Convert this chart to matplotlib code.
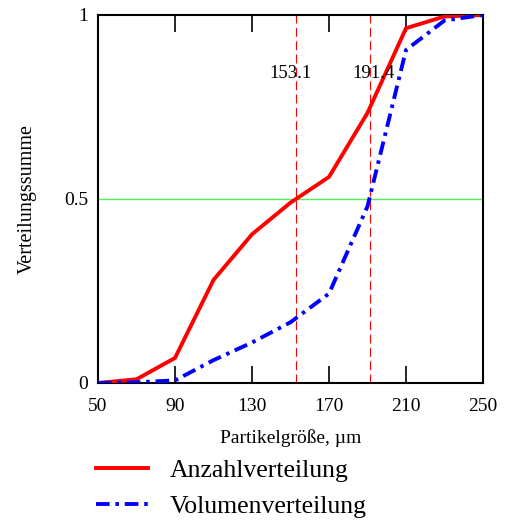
import matplotlib
matplotlib.use("Agg")
import matplotlib.pyplot as plt
from matplotlib.lines import Line2D

plt.rcParams['font.family'] = ['Liberation Serif', 'DejaVu Serif']

# particle size classes (µm) and cumulative distributions
size = [50, 70, 90, 110, 130, 150, 170, 190, 210, 230, 250]
anzahl = [0.0, 0.01, 0.068, 0.28, 0.404, 0.49, 0.56, 0.734, 0.964, 0.996, 1.0]
volumen = [0.0, 0.002, 0.007, 0.062, 0.11, 0.165, 0.243, 0.48, 0.905, 0.985, 1.0]

d50 = [153.1, 191.4]      # median sizes
d50_text = ['153.1', '191.4']
xticks = [50, 90, 130, 170, 210, 250]
yticks = [0, 0.5, 1]
ytick_labels = ['0', '0.5', '1']

fig = plt.figure(figsize=(5.07, 5.20), dpi=100)
ax = fig.add_axes([0.1933, 0.2635, 0.7594, 0.7077])

ax.axhline(0.5, color='#55ee55', lw=1.0, zorder=1)
for xv in d50:
    ax.axvline(xv, color='red', lw=0.8, ls=(0, (8, 4)), zorder=1)

ax.plot(size, anzahl, color='red', lw=2.8, zorder=3)
ax.plot(size, volumen, color='blue', lw=2.8, ls=(0, (3.5, 1.5, 0.9, 1.5)), zorder=3)

ax.text(d50[0] - 3, 0.84, d50_text[0], ha='center', va='center', fontsize=13.5)
ax.text(d50[1] + 1.5, 0.84, d50_text[1], ha='center', va='center', fontsize=13.5)

ax.set_xlim(50, 250)
ax.set_ylim(0, 1)
ax.set_xticks(xticks)
ax.set_yticks(yticks)
ax.set_yticklabels(ytick_labels)
ax.tick_params(axis='x', direction='in', length=12, width=1.2, top=True,
               labelsize=14, pad=11)
ax.tick_params(axis='y', length=0, labelsize=14, pad=7)
for s in ax.spines.values():
    s.set_linewidth(1.5)

ax.set_xlabel('Partikelgröße, µm', fontsize=14, labelpad=10)
ax.set_ylabel('Verteilungssumme', fontsize=14.5, labelpad=20)

handles = [Line2D([], [], color='red', lw=2.8),
           Line2D([], [], color='blue', lw=2.8, ls=(0, (3.5, 1.5, 0.9, 1.5)))]
fig.legend(handles, ['Anzahlverteilung', 'Volumenverteilung'],
           loc='upper left', bbox_to_anchor=(0.19, 0.117), frameon=False,
           fontsize=18.5, handlelength=2.0, handletextpad=0.85,
           labelspacing=0.5, borderpad=0, borderaxespad=0)

fig.savefig('out.png', dpi=100)
